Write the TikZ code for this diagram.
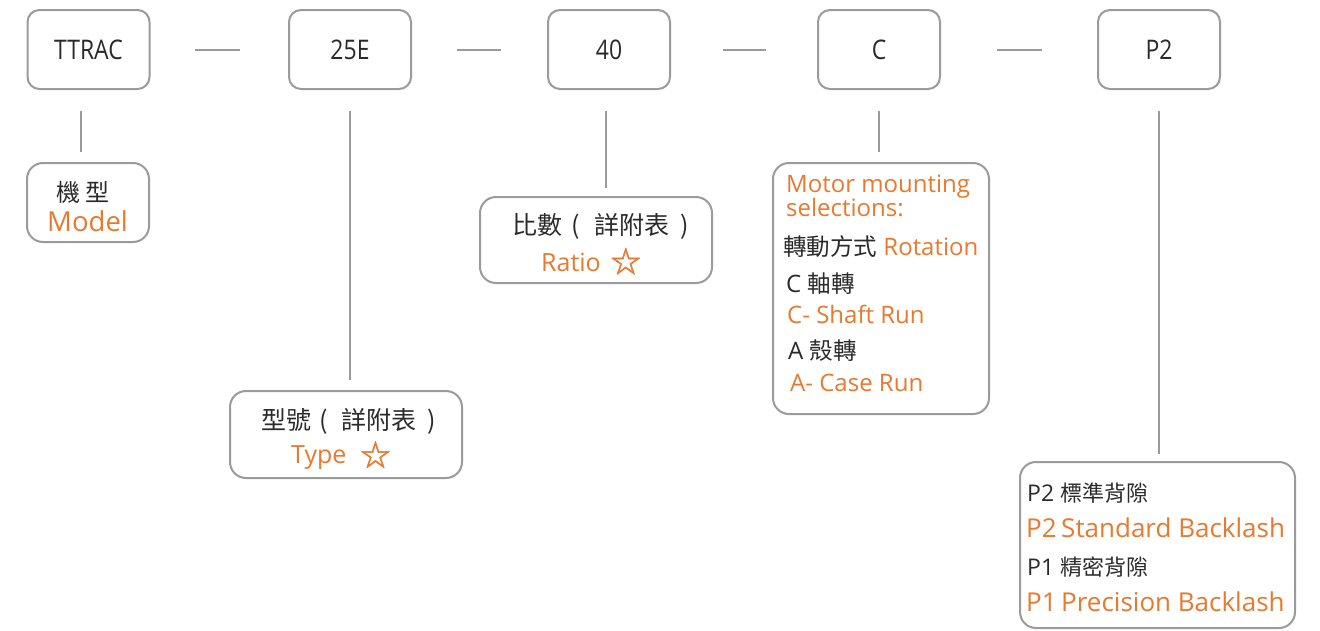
\documentclass[tikz,border=0pt]{standalone}
\usepackage{fontspec}
\setmainfont{Open Sans}
\newfontfamily\cjk{Noto Sans CJK TC}
\newfontfamily\starfont[FakeBold=1.5]{Noto Sans CJK TC}
\definecolor{og}{HTML}{E8792F}
\definecolor{bd}{HTML}{9B9B9B}
\definecolor{tx}{HTML}{2A2A2A}
\newcommand{\cond}[1]{\scalebox{0.85}[1]{#1}}
\newcommand{\ostar}{{\starfont\fontsize{30}{30}\selectfont ☆}}
\begin{document}
\begin{tikzpicture}[x=1pt,y=-1pt,
  codebox/.style={draw=bd,line width=2pt,rounded corners=12pt,minimum width=122pt,minimum height=79pt,inner sep=0pt,text=tx,font=\fontsize{27}{27}\selectfont},
  infobox/.style={draw=bd,line width=2pt,rounded corners=16pt,inner sep=0pt},
  link/.style={draw=bd,line width=2pt},
  lbl/.style={inner sep=0pt,anchor=base west},
  og/.style={text=og},
  bk/.style={text=tx}]
\useasboundingbox[fill=white] (0,0) rectangle (1320,630);
% code boxes
\node[codebox] (ttrac) at (88.5,49.5) {\cond{TTRAC}};
\node[codebox] (e25) at (350,49.5) {\cond{25E}};
\node[codebox] (r40) at (609,49.5) {\cond{40}};
\node[codebox] (cc) at (879,49.5) {\cond{C}};
\node[codebox] (pp) at (1159,49.5) {\cond{P2}};
% dashes
\draw[link,shorten <=44.5pt,shorten >=48.5pt] (ttrac.east) -- (e25.west);
\draw[link,shorten <=44.5pt,shorten >=46.5pt] (e25.west -| e25.east) -- (r40.west);
\draw[link,shorten <=52pt,shorten >=51pt] (r40.east) -- (cc.west);
\draw[link,shorten <=56pt,shorten >=55pt] (cc.east) -- (pp.west);
% info boxes
\node[infobox,minimum width=122pt,minimum height=79pt] (model) at (88,202.5) {};
\node[infobox,minimum width=232pt,minimum height=87pt] (type) at (346,434.5) {};
\node[infobox,minimum width=232pt,minimum height=86pt] (ratio) at (596,240) {};
\node[infobox,minimum width=216pt,minimum height=251pt] (motor) at (881,288.5) {};
\node[infobox,minimum width=275pt,minimum height=166pt] (back) at (1157.5,545) {};
% vertical links
\draw[link,shorten <=21pt,shorten >=10pt] ([xshift=-7.5pt]ttrac.south) -- ([xshift=-7.5pt]ttrac.south |- model.north);
\draw[link,shorten <=21pt,shorten >=10pt] (e25.south) -- (e25.south |- type.north);
\draw[link,shorten <=21pt,shorten >=8pt] ([xshift=-3pt]r40.south) -- ([xshift=-3pt]r40.south |- ratio.north);
\draw[link,shorten <=21pt,shorten >=10pt] (cc.south) -- (cc.south |- motor.north);
\draw[link,shorten <=21pt,shorten >=7pt] (pp.south) -- (pp.south |- back.north);
% model texts
\node[inner sep=0pt,bk,font=\cjk\fontsize{24}{24}\selectfont] (modelzh) at (83,192) {機\hspace{5pt}型};
\node[lbl,og,font=\fontsize{27.5}{27.5}\selectfont] (modelen) at (47,231.5) {Model};
% ratio texts
\node[lbl,bk,font=\cjk\fontsize{25}{25}\selectfont] (ratiozh) at (512,234) {比數\hspace{9pt}(\hspace{15pt}詳附表\hspace{11pt})};
\node[lbl,og,font=\fontsize{25}{25}\selectfont] (ratioen) at (541,271.5) {Ratio\hspace{10pt}\raisebox{-1pt}{\ostar}};
% type texts
\node[lbl,bk,font=\cjk\fontsize{25}{25}\selectfont] (typezh) at (261,429) {型號\hspace{8pt}(\hspace{14pt}詳附表\hspace{11pt})};
\node[lbl,og,font=\fontsize{25}{25}\selectfont] (typeen) at (291,463) {Type\hspace{14pt}\raisebox{-3pt}{\ostar}};
% motor texts
\node[lbl,og,font=\fontsize{24}{24}\selectfont] (m1) at (786,192) {Motor mounting};
\node[lbl,og,font=\fontsize{24}{24}\selectfont] (m2) at (786,216.5) {selections:};
\node[lbl,font=\fontsize{24}{24}\selectfont] (m3) at (783,255) {{\color{tx}\cjk\fontsize{23.5}{23.5}\selectfont 轉動方式} {\color{og}Rotation}};
\node[lbl,bk,font=\fontsize{24}{24}\selectfont] (m4) at (786,292) {C {\cjk\fontsize{23.5}{23.5}\selectfont 軸轉}};
\node[lbl,og,font=\fontsize{24}{24}\selectfont] (m5) at (787,323) {C- Shaft Run};
\node[lbl,bk,font=\fontsize{24}{24}\selectfont] (m6) at (788,359) {A {\cjk\fontsize{23.5}{23.5}\selectfont 殼轉}};
\node[lbl,og,font=\fontsize{24}{24}\selectfont] (m7) at (790,391.5) {A- Case Run};
% backlash texts
\node[lbl,bk,font=\fontsize{23}{23}\selectfont] (b1) at (1027,501.5) {P2 {\cjk\fontsize{22}{22}\selectfont 標準背隙}};
\node[lbl,og,font=\fontsize{26}{26}\selectfont] (b2) at (1026,537.5) {P2\hspace{4.5pt}Standard Backlash};
\node[lbl,bk,font=\fontsize{23}{23}\selectfont] (b3) at (1027,575.5) {P1 {\cjk\fontsize{22}{22}\selectfont 精密背隙}};
\node[lbl,og,font=\fontsize{26}{26}\selectfont] (b4) at (1026,611.5) {P1\hspace{4.5pt}Precision Backlash};
\end{tikzpicture}
\end{document}
